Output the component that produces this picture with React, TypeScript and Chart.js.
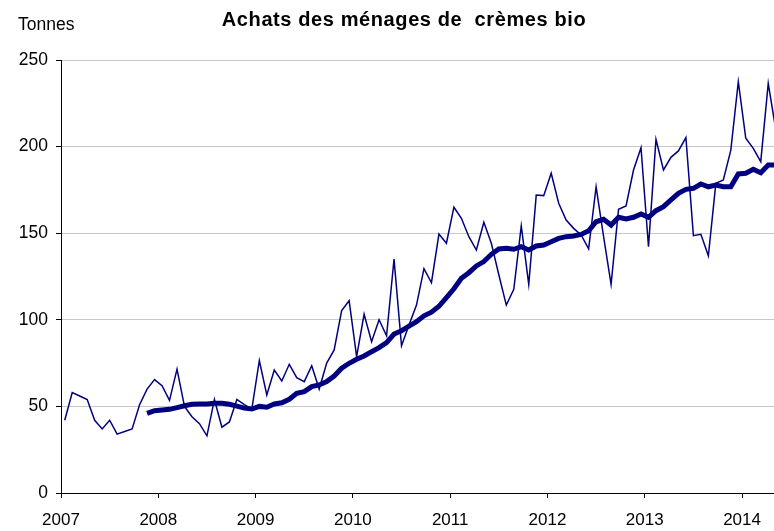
import React, { useEffect, useRef } from "react";
import { Chart, registerables } from "chart.js";

Chart.register(...registerables);

// Axis labels: one label every 13 four-week periods
const years = ["2007", "2008", "2009", "2010", "2011", "2012", "2013", "2014"];
const PERIODS_PER_YEAR = 13;

// Monthly (4-week period) household purchases, tonnes
const achats = [
  42, 58, 56, 54, 42, 37, 42, 34, 35.5, 37, 51, 60, 65.5,
  62, 53.5, 71.5, 50, 44, 40, 33, 54, 38, 41, 54, 51, 48.5,
  76.5, 56.6, 71, 64.7, 74.3, 66.6, 64.3, 73.5, 60, 75, 82.6, 105.3, 111,
  78.7, 103.2, 87.4, 100, 90.8, 135, 85, 97, 108.5, 129.5, 121.4, 149.5, 144.2,
  165, 158.6, 148, 140.3, 156.3, 144.2, 126, 108.5, 117.6, 154.2, 120.5, 172, 171.7,
  184.6, 167.3, 157.6, 152.8, 149, 141, 176.8, 148, 120.5, 163.8, 165.7, 186.5, 199.4,
  142.2, 204.2, 186.5, 193.8, 197.5, 205.2, 148.6, 149.4, 137, 178.8, 180.7, 198, 237.5,
  204.8, 199, 191.3, 236.5, 210,
];

// Moving average (thick line)
const moyenneMobile: (number | null)[] = [
  null, null, null, null, null, null, null, null, null, null, null, 46, 47.5,
  47.9, 48.3, 49.3, 50.4, 51.2, 51.4, 51.4, 51.8, 51.8, 51.2, 50.2, 49, 48.5,
  50, 49.5, 51.4, 52.1, 54.1, 57.5, 58.5, 61.4, 62.4, 64.3, 67.5, 72, 74.9,
  77.2, 79.1, 81.6, 83.9, 86.8, 91.8, 93.7, 96.4, 98.9, 102.3, 104.4, 107.8, 112.8,
  117.9, 124, 127.2, 131.1, 133.6, 137.8, 140.9, 141.3, 140.7, 142.2, 140.3, 142.6, 143.2,
  145.1, 147, 148, 148.4, 149.3, 151.4, 156.6, 158, 154.7, 159.2, 158.2, 159.2, 161.1,
  159.2, 163, 165.3, 169.2, 173, 175.3, 175.9, 178.4, 176.8, 177.8, 176.8, 176.8, 184.2,
  184.6, 186.9, 184.9, 189.4, 189.4,
];

const TITLE = "Achats des ménages de  crèmes bio";
const UNIT = "Tonnes";
const VISIBLE_PERIODS = 95.27;

export default function App() {
  const ref = useRef<HTMLCanvasElement>(null);

  useEffect(() => {
    document.body.style.margin = "0";
    const canvas = ref.current;
    if (!canvas) return;
    const fam = "'Liberation Sans', Arial, Helvetica, sans-serif";

    const textPlugin = {
      id: "texts",
      afterDraw(chart: any) {
        const ctx = chart.ctx as CanvasRenderingContext2D;
        ctx.save();
        ctx.fillStyle = "#000";
        ctx.textBaseline = "alphabetic";
        ctx.font = `bold 20px ${fam}`;
        (ctx as any).letterSpacing = "0.6px";
        ctx.textAlign = "center";
        ctx.fillText(TITLE, 404, 26);
        (ctx as any).letterSpacing = "0px";
        ctx.font = `17.5px ${fam}`;
        ctx.textAlign = "left";
        ctx.fillText(UNIT, 18, 30);
        ctx.restore();
      },
    };

    const chart = new Chart(canvas, {
      type: "line",
      data: {
        datasets: [
          {
            label: "Moyenne mobile",
            data: moyenneMobile.map((v, i) => ({ x: i + 0.5, y: v })),
            borderColor: "#000080",
            borderWidth: 5,
            pointRadius: 0,
            tension: 0,
            fill: false,
            order: 0,
          },
          {
            label: "Achats",
            data: achats.map((v, i) => ({ x: i + 0.5, y: v })),
            borderColor: "#000080",
            borderWidth: 1.5,
            pointRadius: 0,
            tension: 0,
            fill: false,
            order: 1,
          },
        ],
      },
      options: {
        animation: false,
        responsive: false,
        devicePixelRatio: 1,
        layout: { padding: { top: 60, left: 0, right: 0, bottom: 0 } },
        plugins: {
          legend: { display: false },
          title: { display: false },
          tooltip: { enabled: false },
        },
        scales: {
          x: {
            type: "linear",
            min: 0,
            max: VISIBLE_PERIODS,
            afterFit(scale: any) {
              scale.height = 38;
            },
            border: { display: true, color: "#000", width: 1 },
            grid: {
              drawOnChartArea: false,
              drawTicks: true,
              tickLength: 5,
              tickColor: "#000",
            },
            ticks: {
              stepSize: PERIODS_PER_YEAR,
              includeBounds: false,
              autoSkip: false,
              maxRotation: 0,
              padding: 12,
              color: "#000",
              font: { family: fam, size: 17 },
              callback: (v: any) => years[Math.round(Number(v) / PERIODS_PER_YEAR)] ?? "",
            },
          },
          y: {
            min: 0,
            max: 250,
            afterFit(scale: any) {
              scale.width = 61;
            },
            border: { display: true, color: "#000", width: 1 },
            grid: {
              color: "#c8c8c8",
              lineWidth: 1,
              drawTicks: true,
              tickLength: 5,
              tickColor: "#000",
            },
            ticks: {
              stepSize: 50,
              padding: 8,
              color: "#000",
              font: { family: fam, size: 17.5 },
            },
          },
        },
      },
      plugins: [textPlugin],
    });

    return () => chart.destroy();
  }, []);

  return (
    <div style={{ width: 774, height: 531 }}>
      <canvas ref={ref} width={774} height={531} style={{ display: "block" }} />
    </div>
  );
}
